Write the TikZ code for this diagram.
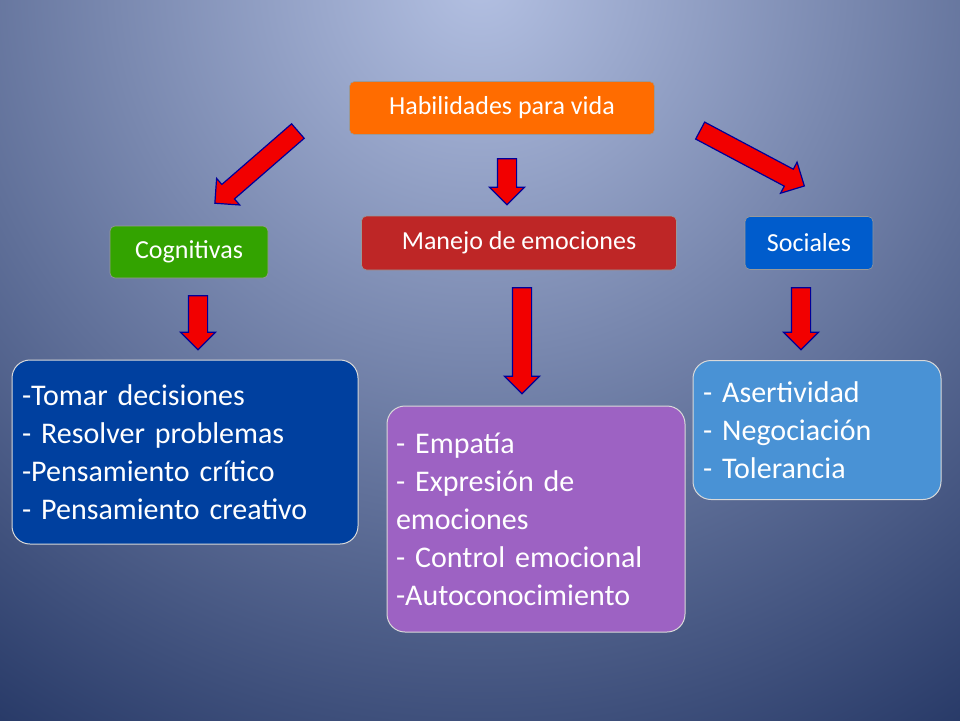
\documentclass[tikz,border=0pt]{standalone}
\usepackage{fontspec}
\setmainfont{Carlito}
\usetikzlibrary{shapes.arrows}
\definecolor{bgin}{HTML}{B3C0E2}
\definecolor{bgout}{HTML}{263866}
\tikzset{
  box/.style={rectangle, rounded corners=5pt, text=white, font=\fontsize{26}{30}\selectfont, draw=white!60!black, line width=0.6pt, inner sep=0pt},
  listbox/.style={rectangle, rounded corners=18pt, text=white, align=left, font=\fontsize{30}{38}\selectfont, draw=white!70!gray, line width=1pt, inner sep=0pt},
  redarrow/.style={single arrow, fill=red!95!black, draw=blue!60!black, line width=1.2pt, single arrow head extend=8pt, single arrow head indent=0pt, inner xsep=0pt, inner ysep=9pt, text height=0pt, text depth=0pt}
}
\begin{document}
\begin{tikzpicture}[x=1pt,y=1pt]
    \useasboundingbox (0,0) rectangle (960,-720);
    \clip (0,0) rectangle (960,-720);
    \fill[bgout] (0,0) rectangle (960,-720);
    \shade[inner color=bgin, outer color=bgout] (480,20) circle (900);

    \node (vida)  [box, fill=orange!85!red, minimum width=305pt, minimum height=53pt] at (502,-108) {Habilidades para vida};
    \node (cogn)  [box, fill=green!55!black!80!yellow, minimum width=158pt, minimum height=52pt] at (189,-252) {Cognitivas};
    \node (mane)  [box, fill=red!70!black!85!white, minimum width=315pt, minimum height=54pt] at (519,-243) {Manejo de emociones};
    \node (soci)  [box, fill=blue!55!cyan!80!black, minimum width=128pt, minimum height=53pt] at (809,-243) {Sociales};

    \node (lcogn) [listbox, fill=blue!50!black!75!cyan, minimum width=346pt, minimum height=184pt, text width=326pt] at (185,-452)
        {-Tomar decisiones\\- Resolver problemas\\-Pensamiento crítico\\- Pensamiento creativo};
    \node (lmane) [listbox, fill=violet!55!white!85!blue, minimum width=298pt, minimum height=226pt, text width=280pt] at (536,-519)
        {- Empatía\\- Expresión de\\emociones\\- Control emocional\\-Autoconocimiento};
    \node (lsoci) [listbox, fill=cyan!60!blue!75!white, minimum width=248pt, minimum height=139pt, text width=228pt] at (817,-430)
        {- Asertividad\\- Negociación\\- Tolerancia};

    % arrows
    \node (a1) [redarrow, minimum height=110pt, rotate=-139] at (260,-164) {};
    \node (a2) [redarrow, minimum height=46pt, rotate=-90] at (507,-177) {};
    \node (a3) [redarrow, minimum height=118pt, rotate=-28] at (748,-156) {};
    \node (a4) [redarrow, minimum height=54pt, rotate=-90] at (198,-318) {};
    \node (a5) [redarrow, minimum height=106pt, rotate=-90] at (522,-336) {};
    \node (a6) [redarrow, minimum height=62pt, rotate=-90] at (801,-314) {};
\end{tikzpicture}
\end{document}
